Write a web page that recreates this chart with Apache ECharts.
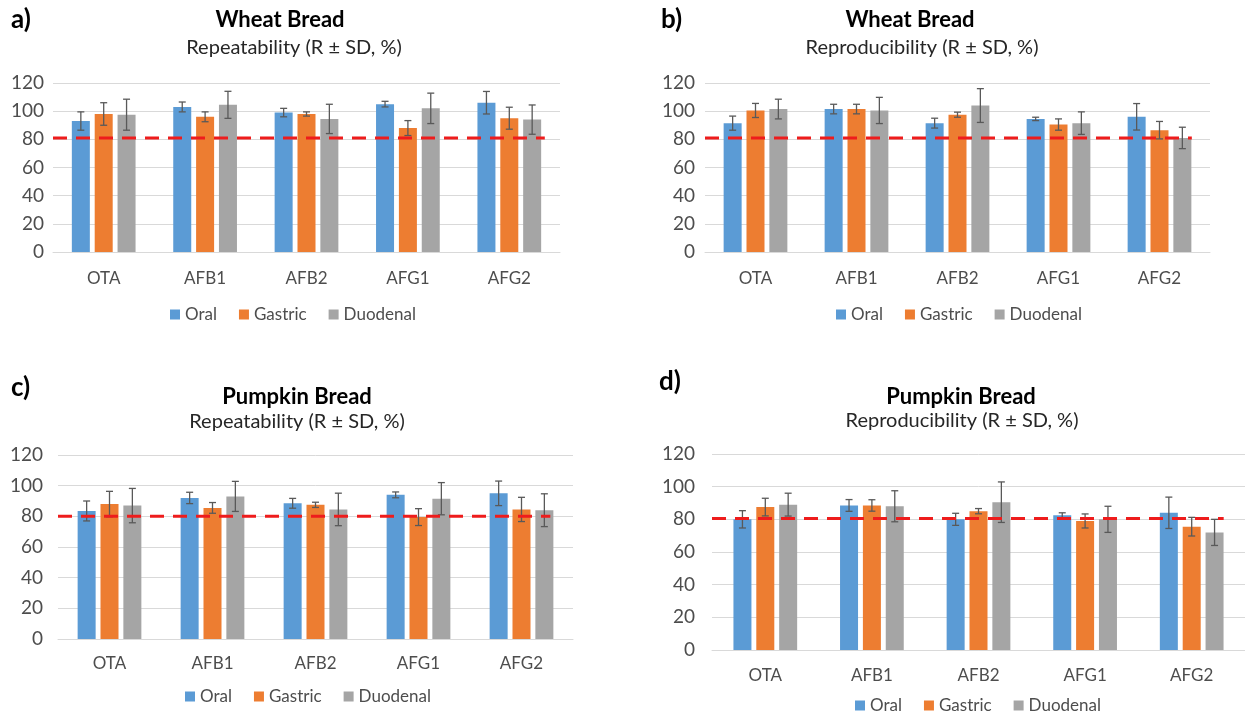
<!DOCTYPE html>
<html>
<head>
<meta charset="utf-8">
<script src="https://cdn.jsdelivr.net/npm/echarts@6/dist/echarts.min.js"></script>
<style>
  html, body { margin: 0; padding: 0; background: #fff; }
  #chart { width: 1245px; height: 712px; }
</style>
</head>
<body>
<div id="chart"></div>
<script>
const categories = ['OTA', 'AFB1', 'AFB2', 'AFG1', 'AFG2'];
const seriesNames = ['Oral', 'Gastric', 'Duodenal'];

// a) Wheat Bread - Repeatability
const wheatRepOral = [93, 103, 99, 105, 106];
const wheatRepOralSd = [6.5, 3.5, 3, 2, 8];
const wheatRepGastric = [98, 96, 98, 88, 95];
const wheatRepGastricSd = [8, 3.5, 1.5, 5.3, 7.8];
const wheatRepDuodenal = [97.5, 104.5, 94.5, 102, 94];
const wheatRepDuodenalSd = [11, 9.6, 10.4, 10.8, 10.4];

// b) Wheat Bread - Reproducibility
const wheatReprOral = [91.5, 101.5, 91.5, 94.5, 96];
const wheatReprOralSd = [5, 3.4, 3.5, 1.2, 9.4];
const wheatReprGastric = [100.5, 101.5, 97.5, 90.5, 86.5];
const wheatReprGastricSd = [5, 3.4, 1.8, 4, 6.2];
const wheatReprDuodenal = [101.5, 100.5, 104, 91.5, 81];
const wheatReprDuodenalSd = [7, 9.3, 12, 8, 7.6];

// c) Pumpkin Bread - Repeatability
const pumpRepOral = [83.5, 92, 88.5, 94, 95];
const pumpRepOralSd = [6.5, 3.7, 3.2, 1.9, 8];
const pumpRepGastric = [88, 85.5, 87.5, 79.5, 84.5];
const pumpRepGastricSd = [8.3, 3.5, 1.7, 5.5, 7.9];
const pumpRepDuodenal = [87, 93, 84.5, 91.5, 84];
const pumpRepDuodenalSd = [11.2, 9.8, 10.6, 10.5, 10.7];

// d) Pumpkin Bread - Reproducibility
const pumpReprOral = [80, 88.5, 80, 82.5, 84];
const pumpReprOralSd = [5.3, 3.6, 3.7, 1.5, 9.6];
const pumpReprGastric = [87.5, 88.5, 85, 79, 75.5];
const pumpReprGastricSd = [5.4, 3.5, 1.6, 4.3, 5.7];
const pumpReprDuodenal = [89, 88, 90.5, 80, 72];
const pumpReprDuodenalSd = [7, 9.5, 12.4, 8, 8];

// 80% recovery reference line per panel
const limitValues = [81, 81, 80, 80.5];

const colors = ['#5B9BD5', '#ED7D31', '#A5A5A5'];
const font = 'Lato, "Noto Sans", sans-serif';
const barWidth = 18;
const barGap = 0.27;
const step = barWidth * (1 + barGap);

const panels = [
  { label: 'a)', title: 'Wheat Bread', sub: 'Repeatability (R \u00b1 SD, %)',
    grid: { left: 53, top: 83, width: 507, height: 169 }, labelMargin: 9, xMargin: 18, lineEnd: 4.85,
    means: [wheatRepOral, wheatRepGastric, wheatRepDuodenal],
    sds: [wheatRepOralSd, wheatRepGastricSd, wheatRepDuodenalSd],
    labelPos: [11, 20], titlePos: [280, 20], subPos: [294, 48], legend: [170, 306] },
  { label: 'b)', title: 'Wheat Bread', sub: 'Reproducibility (R \u00b1 SD, %)',
    grid: { left: 705, top: 83, width: 505, height: 169 }, labelMargin: 10, xMargin: 18, lineEnd: 4.82,
    means: [wheatReprOral, wheatReprGastric, wheatReprDuodenal],
    sds: [wheatReprOralSd, wheatReprGastricSd, wheatReprDuodenalSd],
    labelPos: [661, 20], titlePos: [910, 20], subPos: [922, 48], legend: [836, 306] },
  { label: 'c)', title: 'Pumpkin Bread', sub: 'Repeatability (R \u00b1 SD, %)',
    grid: { left: 58, top: 455, width: 515, height: 184 }, labelMargin: 15, xMargin: 16, lineEnd: 4.78,
    means: [pumpRepOral, pumpRepGastric, pumpRepDuodenal],
    sds: [pumpRepOralSd, pumpRepGastricSd, pumpRepDuodenalSd],
    labelPos: [11, 388], titlePos: [297, 397], subPos: [297, 422], legend: [185, 688] },
  { label: 'd)', title: 'Pumpkin Bread', sub: 'Reproducibility (R \u00b1 SD, %)',
    grid: { left: 712, top: 454, width: 535, height: 196 }, labelMargin: 17, xMargin: 17, lineEnd: 4.8,
    means: [pumpReprOral, pumpReprGastric, pumpReprDuodenal],
    sds: [pumpReprOralSd, pumpReprGastricSd, pumpReprDuodenalSd],
    labelPos: [659, 382], titlePos: [961, 397], subPos: [962, 421], legend: [855, 697] }
];

const grid = [], xAxis = [], yAxis = [], series = [], legend = [], graphic = [];

panels.forEach((p, pi) => {
  grid.push(p.grid);
  xAxis.push({
    type: 'category', gridIndex: pi, data: categories,
    axisLine: { lineStyle: { color: '#d9d9d9', width: 1 } },
    axisTick: { show: false },
    axisLabel: { color: '#4d4d4d', fontSize: 17, fontFamily: font, margin: p.xMargin }
  });
  xAxis.push({ type: 'value', gridIndex: pi, min: 0, max: 5, show: false });
  yAxis.push({
    type: 'value', gridIndex: pi, min: 0, max: 120, interval: 20,
    axisLine: { show: false }, axisTick: { show: false },
    axisLabel: { color: '#4d4d4d', fontSize: 19, fontFamily: font, margin: p.labelMargin },
    splitLine: { lineStyle: { color: '#d9d9d9', width: 1 } }
  });

  seriesNames.forEach((name, k) => {
    series.push({
      name: name, type: 'bar', xAxisIndex: pi * 2, yAxisIndex: pi,
      barWidth: barWidth, barGap: (barGap * 100) + '%',
      itemStyle: { color: colors[k] },
      data: p.means[k]
    });
  });
  seriesNames.forEach((name, k) => {
    const errData = p.means[k].map((m, i) => [i, m + p.sds[k][i], m - p.sds[k][i]]);
    series.push({
      name: 'SD', type: 'custom', xAxisIndex: pi * 2, yAxisIndex: pi, z: 4,
      encode: { x: 0, y: [1, 2] },
      data: errData,
      renderItem: (params, api) => {
        const i = api.value(0);
        const hi = api.coord([i, api.value(1)]);
        const lo = api.coord([i, api.value(2)]);
        const x = hi[0] + (k - 1) * step;
        const cap = 3.5;
        const st = { stroke: '#595959', lineWidth: 1.3 };
        return {
          type: 'group',
          children: [
            { type: 'line', shape: { x1: x, y1: hi[1], x2: x, y2: lo[1] }, style: st },
            { type: 'line', shape: { x1: x - cap, y1: hi[1], x2: x + cap, y2: hi[1] }, style: st },
            { type: 'line', shape: { x1: x - cap, y1: lo[1], x2: x + cap, y2: lo[1] }, style: st }
          ]
        };
      }
    });
  });
  series.push({
    name: 'limit', type: 'line', xAxisIndex: pi * 2 + 1, yAxisIndex: pi, z: 5,
    symbol: 'none', silent: true, clip: false,
    lineStyle: { color: '#ee1c1c', width: 3, type: [14, 9] },
    data: [[0, limitValues[pi]], [p.lineEnd, limitValues[pi]]]
  });

  legend.push({
    data: seriesNames, left: p.legend[0], top: p.legend[1], padding: 0,
    icon: 'rect', itemWidth: 10, itemHeight: 10, itemGap: 22,
    textStyle: { color: '#4d4d4d', fontSize: 17, fontFamily: font }
  });

  graphic.push({
    type: 'text', x: p.labelPos[0], y: p.labelPos[1],
    style: { text: p.label, font: 'bold 26px ' + font, fill: '#000', textVerticalAlign: 'middle' }
  });
  graphic.push({
    type: 'text', x: p.titlePos[0], y: p.titlePos[1],
    style: { text: p.title, font: 'bold 22px ' + font, fill: '#000', textAlign: 'center', textVerticalAlign: 'middle' }
  });
  graphic.push({
    type: 'text', x: p.subPos[0], y: p.subPos[1],
    style: { text: p.sub, font: '20px ' + font, fill: '#262626', textAlign: 'center', textVerticalAlign: 'middle' }
  });
});

const myChart = echarts.init(document.getElementById('chart'));
myChart.setOption({
  animation: false,
  backgroundColor: '#fff',
  grid: grid,
  xAxis: xAxis,
  yAxis: yAxis,
  legend: legend,
  graphic: graphic,
  series: series
});
</script>
</body>
</html>
